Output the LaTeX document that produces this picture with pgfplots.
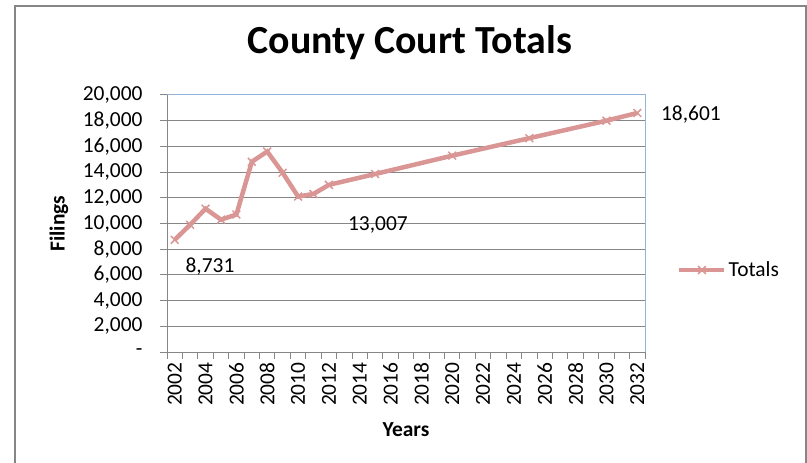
\documentclass[border=0pt]{standalone}
\usepackage{pgfplots}
\pgfplotsset{compat=1.18}
\usepackage{fontspec}
\setmainfont{Carlito}
\definecolor{linec}{RGB}{217,150,148}
\definecolor{gridc}{RGB}{134,134,134}
\definecolor{borderc}{RGB}{149,179,215}
\newcommand{\lbl}{\fontsize{21.5}{25}\selectfont}
\begin{document}
\begin{tikzpicture}
\useasboundingbox (0,0) rectangle (807bp,463bp);
\draw[gridc, line width=2.5bp] (15bp,-5bp) -- (15bp,457bp) -- (806bp,457bp) -- (806bp,-5bp);
\begin{axis}[
  at={(167bp,111bp)}, anchor=south west,
  scale only axis, width=478bp, height=257bp,
  xmin=2001.5, xmax=2032.5, ymin=0, ymax=20000,
  clip=false,
  scaled y ticks=false,
  axis lines*=left,
  axis line style={gridc, line width=1bp},
  tick align=outside,
  xtick={2002,2004,...,2032},
  minor xtick={2001.5,2002.5,...,2032.5},
  major tick length=7bp, minor tick length=7bp,
  major x tick style={draw=none},
  minor x tick style={gridc, line width=1bp},
  major y tick style={gridc, line width=1bp},
  ytick={0,2000,...,20000},
  yticklabels={{-},{2,000},{4,000},{6,000},{8,000},{10,000},{12,000},{14,000},{16,000},{18,000},{20,000}},
  ymajorgrids, major grid style={gridc, line width=1bp},
  /pgf/number format/assume math mode=true,
  x tick label style={rotate=90, anchor=east, font=\lbl, /pgf/number format/1000 sep={}},
  y tick label style={font=\lbl, anchor=east, xshift=-14bp},
  title={County Court Totals},
  title style={at={(axis description cs:0.508,1.179)}, anchor=center, font=\fontsize{40}{45}\selectfont\bfseries},
  xlabel={Years},
  xlabel style={at={(axis description cs:0.5,-0.3035)}, anchor=center, font=\lbl\bfseries},
  ylabel={Filings},
  ylabel style={at={(axis description cs:-0.226,0.5)}, anchor=center, font=\lbl\bfseries},
  legend style={at={(axis description cs:1.067,0.319)}, anchor=west, draw=none, fill=none, inner xsep=0pt, font=\lbl},
  legend image code/.code={\draw[mark repeat=2,mark phase=2,#1] plot coordinates {(0bp,0bp) (22.5bp,0bp) (45bp,0bp)};},
]
\addplot[linec, line width=4.5bp, mark=x, mark size=5.5bp, mark options={line width=1.5bp, solid}] table {
x y
2002 8731
2003 9900
2004 11150
2005 10300
2006 10700
2007 14800
2008 15600
2009 13950
2010 12100
2011 12300
2012 13007
2015 13850
2020 15280
2025 16640
2030 18000
2032 18601
};
\addlegendentry{Totals}
\draw[borderc, line width=1bp] (rel axis cs:0,1) -- (rel axis cs:1,1) -- (rel axis cs:1,0);
\node[font=\lbl] at (axis cs:2004.29,6615) {8,731};
\node[font=\lbl] at (axis cs:2015.18,9883) {13,007};
\node[font=\lbl] at (axis cs:2035.48,18444) {18,601};
\end{axis}
\end{tikzpicture}
\end{document}
